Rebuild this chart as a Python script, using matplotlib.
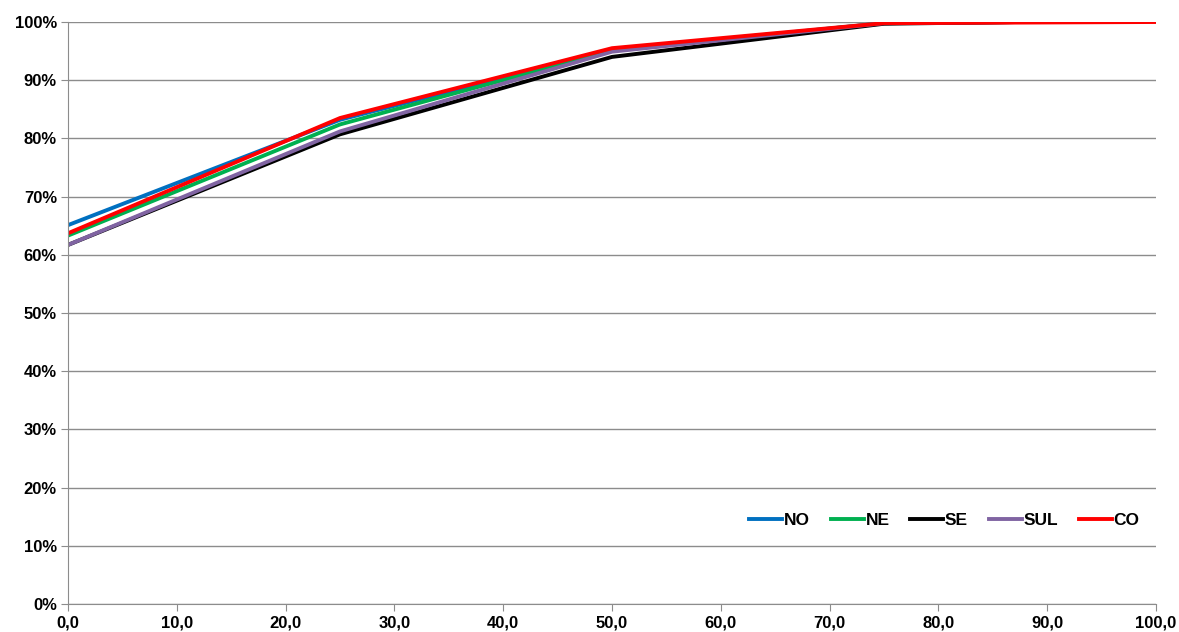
import numpy as np
import matplotlib.pyplot as plt
from matplotlib.ticker import FuncFormatter

plt.rcParams['font.family'] = ['Liberation Sans', 'DejaVu Sans']

x_main = [0, 25, 50, 75, 87.5]
x_co = [0, 25, 50, 75, 100]

no_vals = [65.1, 83.2, 95.2, 99.8, 100.0]
ne_vals = [63.3, 82.4, 95.1, 99.8, 100.0]
se_vals = [61.7, 80.7, 94.0, 99.7, 100.0]
sul_vals = [61.7, 81.2, 94.9, 99.8, 100.0]
co_vals = [63.7, 83.5, 95.5, 99.8, 100.0]

series = [
    ("NO", x_main, no_vals, "#0070C0"),
    ("NE", x_main, ne_vals, "#00B050"),
    ("SE", x_main, se_vals, "#000000"),
    ("SUL", x_main, sul_vals, "#8064A2"),
    ("CO", x_co, co_vals, "#FF0000"),
]

fig = plt.figure(figsize=(11.79, 6.32), dpi=100)
ax = fig.add_axes([0.0577, 0.0443, 0.9228, 0.9209])

for name, xs, ys, c in series:
    ax.plot(xs, ys, color=c, lw=2.8, label=name, solid_joinstyle='miter')

ax.set_xlim(0, 100)
ax.set_ylim(0, 100)
ax.set_xticks(np.arange(0, 101, 10))
ax.set_yticks(np.arange(0, 101, 10))
ax.xaxis.set_major_formatter(FuncFormatter(lambda v, p: f"{v:.1f}".replace(".", ",")))
ax.yaxis.set_major_formatter(FuncFormatter(lambda v, p: f"{v:.0f}%"))
for lab in ax.get_xticklabels() + ax.get_yticklabels():
    lab.set_fontweight('bold')
    lab.set_fontsize(12)

ax.grid(axis='y', color='#8c8c8c', lw=1)
ax.set_axisbelow(True)
for s in ['top', 'right']:
    ax.spines[s].set_visible(False)
for s in ['left', 'bottom']:
    ax.spines[s].set_color('#8c8c8c')
ax.tick_params(axis='both', color='#8c8c8c', length=5, pad=3)

leg = ax.legend(loc='lower right', bbox_to_anchor=(0.985, 0.13), ncol=5, frameon=False,
                handlelength=1.9, handletextpad=0.1, columnspacing=1.2,
                borderaxespad=0, borderpad=0,
                prop={'weight': 'bold', 'size': 12.5})

fig.savefig("out.png", dpi=100)
